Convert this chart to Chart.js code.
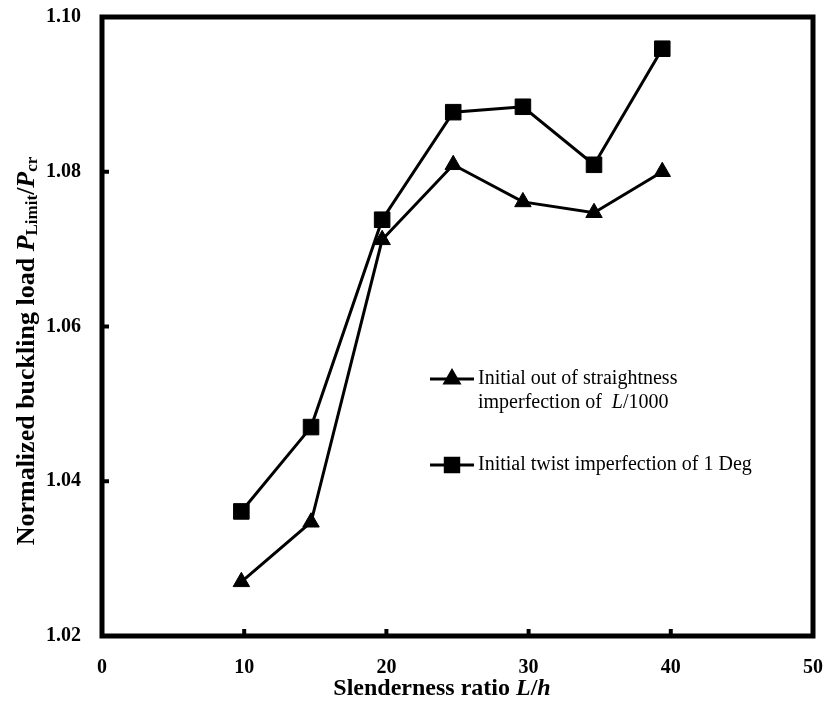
<!DOCTYPE html>
<html>
<head>
<meta charset="utf-8">
<script src="https://cdn.jsdelivr.net/npm/chart.js@4.4.0/dist/chart.umd.min.js"></script>
<style>
  html, body { margin: 0; padding: 0; background: #fff; }
  #wrap { width: 826px; height: 713px; position: relative; }
</style>
</head>
<body>
<div id="wrap"><canvas id="chart"></canvas></div>
<script>
// datos
const slenderness = [9.8, 14.7, 19.7, 24.7, 29.6, 34.6, 39.4];
const straightnessLoad = [1.0270, 1.0347, 1.0712, 1.0809, 1.0761, 1.0747, 1.0800];
const twistLoad = [1.0361, 1.0470, 1.0738, 1.0877, 1.0884, 1.0809, 1.0959];
const xTicks = [0, 10, 20, 30, 40, 50];
const yTicks = [1.02, 1.04, 1.06, 1.08, 1.10];

const SERIF = '"Liberation Serif", "Times New Roman", serif';

function toPoints(xs, ys) {
    return xs.map((x, i) => ({ x: x, y: ys[i] }));
}

// dibuja un texto con partes de distinto estilo
function drawRich(ctx, parts, cx, cy) {
    let total = 0;
    parts.forEach(p => {
        ctx.font = p.font;
        p.w = ctx.measureText(p.text).width;
        total += p.w;
    });
    let x = cx - total / 2;
    parts.forEach(p => {
        ctx.font = p.font;
        ctx.fillText(p.text, x, cy + (p.dy || 0));
        x += p.w;
    });
}

const decor = {
    id: 'decor',
    afterDraw(chart) {
        const ctx = chart.ctx;
        const a = chart.chartArea;
        const xs = chart.scales.x;
        const ys = chart.scales.y;
        ctx.save();
        ctx.strokeStyle = '#000';
        ctx.fillStyle = '#000';

        // marco
        ctx.lineWidth = 5;
        ctx.strokeRect(a.left, a.top, a.right - a.left, a.bottom - a.top);

        // marcas hacia adentro
        ctx.lineWidth = 4;
        xTicks.forEach(v => {
            const px = xs.getPixelForValue(v);
            ctx.beginPath();
            ctx.moveTo(px, a.bottom);
            ctx.lineTo(px, a.bottom - 7);
            ctx.stroke();
        });
        yTicks.forEach(v => {
            const py = ys.getPixelForValue(v);
            ctx.beginPath();
            ctx.moveTo(a.left, py);
            ctx.lineTo(a.left + 7, py);
            ctx.stroke();
        });

        // títulos de ejes
        ctx.textBaseline = 'middle';
        ctx.textAlign = 'left';
        const xb = 'bold 24px ' + SERIF;
        const xbi = 'italic bold 24px ' + SERIF;
        drawRich(ctx, [
            { text: 'Slenderness ratio ', font: xb },
            { text: 'L', font: xbi },
            { text: '/', font: xb },
            { text: 'h', font: xbi }
        ], 442, 689);

        const b = 'bold 26px ' + SERIF;
        const bi = 'italic bold 26px ' + SERIF;
        const sub = 'bold 17px ' + SERIF;
        ctx.save();
        ctx.translate(27, 351);
        ctx.rotate(-Math.PI / 2);
        drawRich(ctx, [
            { text: 'Normalized buckling load ', font: b },
            { text: 'P', font: bi },
            { text: 'Limit', font: sub, dy: 6 },
            { text: '/', font: b },
            { text: 'P', font: bi },
            { text: 'cr', font: sub, dy: 6 }
        ], 0, 0);
        ctx.restore();

        // leyenda
        const lx0 = 430, lx1 = 474, tx = 478;
        const r = 'normal 20px ' + SERIF;
        const ri = 'italic 20px ' + SERIF;
        const rows = [
            { y: 379, ds: 0, radius: 8 },
            { y: 465, ds: 1, radius: 9.5 }
        ];
        rows.forEach(row => {
            const ds = chart.data.datasets[row.ds];
            ctx.lineWidth = 3;
            ctx.beginPath();
            ctx.moveTo(lx0, row.y);
            ctx.lineTo(lx1, row.y);
            ctx.stroke();
            Chart.helpers.drawPoint(ctx, {
                pointStyle: ds.pointStyle,
                radius: row.radius,
                borderWidth: 1
            }, (lx0 + lx1) / 2, row.y);
            ctx.fill();
        });
        ctx.font = r;
        ctx.fillText('Initial out of straightness', tx, 379);
        ctx.fillText('imperfection of  ', tx, 403);
        let w = ctx.measureText('imperfection of  ').width;
        ctx.font = ri;
        ctx.fillText('L', tx + w, 403);
        w += ctx.measureText('L').width;
        ctx.font = r;
        ctx.fillText('/1000', tx + w, 403);
        ctx.fillText('Initial twist imperfection of 1 Deg', tx, 465);

        ctx.restore();
    }
};

new Chart(document.getElementById('chart'), {
    type: 'scatter',
    data: {
        datasets: [{
            label: 'Initial out of straightness imperfection of L/1000',
            data: toPoints(slenderness, straightnessLoad),
            showLine: true,
            borderColor: '#000',
            backgroundColor: '#000',
            borderWidth: 3,
            pointStyle: 'triangle',
            pointRadius: 9.5,
            pointBorderWidth: 1,
            tension: 0
        }, {
            label: 'Initial twist imperfection of 1 Deg',
            data: toPoints(slenderness, twistLoad),
            showLine: true,
            borderColor: '#000',
            backgroundColor: '#000',
            borderWidth: 3,
            pointStyle: 'rect',
            pointRadius: 11,
            pointBorderWidth: 1,
            tension: 0
        }]
    },
    options: {
        responsive: true,
        maintainAspectRatio: false,
        animation: false,
        layout: { padding: { top: 17, right: 13, left: 0, bottom: 0 } },
        plugins: {
            legend: { display: false },
            tooltip: { enabled: false }
        },
        scales: {
            x: {
                type: 'linear',
                min: 0,
                max: 50,
                afterBuildTicks: s => { s.ticks = xTicks.map(v => ({ value: v })); },
                afterFit: s => {
                    s.height = 77;
                    s.paddingLeft = 0;
                    s.paddingRight = 0;
                },
                grid: { display: false, drawTicks: false },
                border: { display: false },
                ticks: {
                    color: '#000',
                    padding: 20,
                    font: { family: SERIF, size: 20, weight: 'bold' }
                }
            },
            y: {
                type: 'linear',
                min: 1.02,
                max: 1.10,
                afterBuildTicks: s => { s.ticks = yTicks.map(v => ({ value: v })); },
                afterFit: s => {
                    s.width = 102;
                    s.paddingTop = 0;
                    s.paddingBottom = 0;
                },
                grid: { display: false, drawTicks: false },
                border: { display: false },
                ticks: {
                    color: '#000',
                    padding: 21,
                    font: { family: SERIF, size: 20, weight: 'bold' },
                    callback: v => v.toFixed(2)
                }
            }
        }
    },
    plugins: [decor]
});
</script>
</body>
</html>
